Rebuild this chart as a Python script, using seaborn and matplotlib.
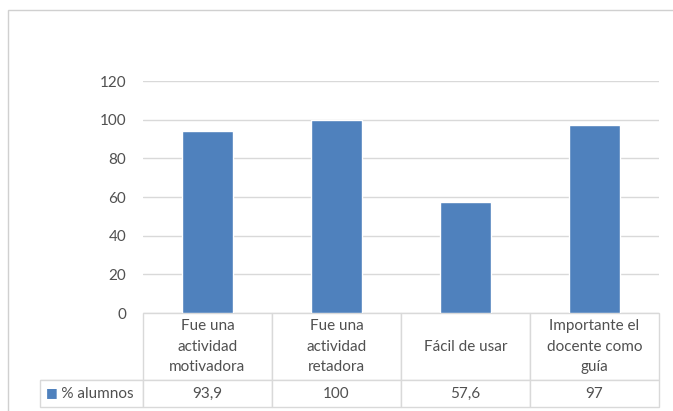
import matplotlib
matplotlib.use("Agg")
import matplotlib.pyplot as plt
import seaborn as sns
import pandas as pd
from matplotlib.patches import Rectangle

# datos
categorias = ["Fue una\nactividad\nmotivadora", "Fue una\nactividad\nretadora",
              "Fácil de usar", "Importante el\ndocente como\nguía"]
porcentajes = [93.9, 100, 57.6, 97]
serie = "% alumnos"
yticks = [0, 20, 40, 60, 80, 100, 120]

azul = "#4F81BD"
gris_txt = "#505050"
gris_lin = "#D9D9D9"

sns.set_style("white")
plt.rcParams["font.family"] = ["Lato", "DejaVu Sans"]

df = pd.DataFrame({"cat": categorias, "val": porcentajes})

fig = plt.figure(figsize=(6.73, 4.11), dpi=100)
# marco del gráfico
fig.patches.append(Rectangle((8 / 673, -0.01), 1.0, 1 - 10 / 411 + 0.01,
                             transform=fig.transFigure, fill=False,
                             edgecolor="#D0D0D0", linewidth=1.0))

ax = fig.add_axes([143 / 673, (411 - 313) / 411, 516 / 673, 232 / 411])
sns.barplot(data=df, x="cat", y="val", color=azul, width=0.4, saturation=1, ax=ax)

ax.set_ylim(0, 120)
ax.set_yticks(yticks)
ax.set_yticklabels([str(t) for t in yticks], color=gris_txt, fontsize=11)
ax.yaxis.grid(True, color=gris_lin, linewidth=1)
ax.set_axisbelow(True)
ax.set_xticklabels([])
ax.tick_params(axis="both", length=0, pad=12)
ax.set_xlabel("")
ax.set_ylabel("")
for s in ax.spines.values():
    s.set_visible(False)

# tabla de datos
textos = [[""] + categorias,
          ["     " + serie] + [str(v).replace(".", ",") for v in porcentajes]]
tabla = ax.table(cellText=textos, cellLoc="center",
                 colWidths=[103, 129, 129, 129, 129],
                 bbox=[-103 / 516, -94 / 232, 619 / 516, 94 / 232])
tabla.auto_set_font_size(False)
tabla.set_fontsize(11)
for (r, c), cell in tabla.get_celld().items():
    cell.set_edgecolor(gris_lin)
    cell.set_linewidth(1)
    cell.get_text().set_color(gris_txt)
    cell.get_text().set_linespacing(1.55)
    cell.set_height(67 if r == 0 else 27)
    if r == 0 and c == 0:
        cell.visible_edges = "B"
    if r == 1 and c == 0:
        cell.get_text().set_ha("left")
        cell._loc = "left"
        cell.PAD = 0.02

ax.text(-97 / 516, -80 / 232, "■", transform=ax.transAxes, color=azul,
        fontsize=9, va="center", ha="left", family="DejaVu Sans")

fig.savefig("out.png", dpi=100)
